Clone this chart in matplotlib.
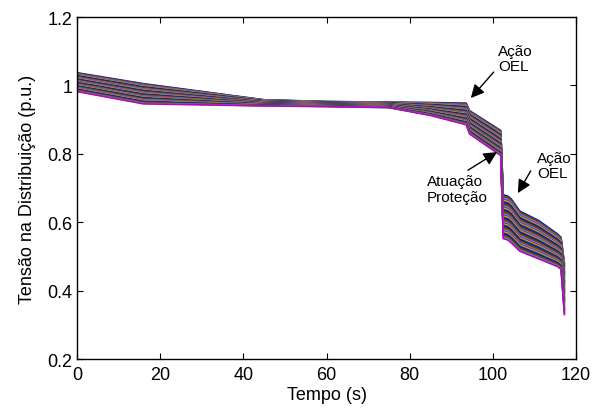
import numpy as np
import matplotlib
matplotlib.use("Agg")
import matplotlib.pyplot as plt

plt.rcParams['font.family'] = ['Liberation Sans', 'DejaVu Sans']

# breakpoints in time (s) shared by the envelope curves
t_pts = [0, 16, 45, 60, 75, 85, 93.6, 94.4, 101.9, 102.5, 103.6, 104.4, 106.5, 111, 115.6, 116.4, 117.2]
# highest bus voltage (p.u.)
v_top = [1.037, 1.005, 0.958, 0.953, 0.951, 0.950, 0.948, 0.926, 0.868, 0.680, 0.676, 0.668, 0.632, 0.605, 0.565, 0.555, 0.48]
# lowest bus voltage (p.u.)
v_bot = [0.982, 0.946, 0.940, 0.938, 0.935, 0.912, 0.885, 0.858, 0.795, 0.552, 0.548, 0.540, 0.515, 0.493, 0.470, 0.462, 0.33]

n_buses = 40
xticks = [0, 20, 40, 60, 80, 100, 120]
yticks = [0.2, 0.4, 0.6, 0.8, 1.0, 1.2]
ylabels = ['0.2', '0.4', '0.6', '0.8', '1', '1.2']

# old matlab line colours
cols = [(0, 0, 1), (0, 0.5, 0), (1, 0, 0), (0, 0.75, 0.75),
        (0.75, 0, 0.75), (0.75, 0.75, 0), (0.25, 0.25, 0.25)]

fig = plt.figure(figsize=(6.03, 4.14), dpi=100)
ax = fig.add_axes([0.1277, 0.1304, 0.8276, 0.8261])

top = np.array(v_top)
bot = np.array(v_bot)
for i, w in enumerate(np.linspace(0, 1, n_buses)):
    ax.plot(t_pts, top + w * (bot - top), color=cols[i % 7], lw=1.2)

ax.set_xlim(0, 120)
ax.set_ylim(0.2, 1.2)
ax.set_xticks(xticks)
ax.set_yticks(yticks)
ax.set_yticklabels(ylabels)
ax.tick_params(direction='in', length=4, labelsize=13, top=True, right=True, width=0.8)
ax.tick_params(axis='x', pad=5)
for sp in ax.spines.values():
    sp.set_linewidth(1.0)
ax.set_xlabel('Tempo (s)', fontsize=13, labelpad=2)
ax.set_ylabel('Tensão na Distribuição (p.u.)', fontsize=13, labelpad=8)

arr = dict(arrowstyle='-|>', color='k', lw=1.0, mutation_scale=20, shrinkA=0, shrinkB=0)
txt = dict(ha='left', va='center', fontsize=11, linespacing=1.1)

ax.annotate('', xy=(94.7, 0.963), xytext=(100.2, 1.039), arrowprops=arr)
ax.text(101.2, 1.078, 'Ação\nOEL', **txt)

ax.annotate('', xy=(106.0, 0.685), xytext=(109.1, 0.75), arrowprops=arr)
ax.text(110.6, 0.765, 'Ação\nOEL', **txt)

ax.annotate('', xy=(101.0, 0.805), xytext=(94.0, 0.752), arrowprops=arr)
ax.text(84.1, 0.697, 'Atuação\nProteção', **txt)

fig.savefig('out.png', dpi=100)
